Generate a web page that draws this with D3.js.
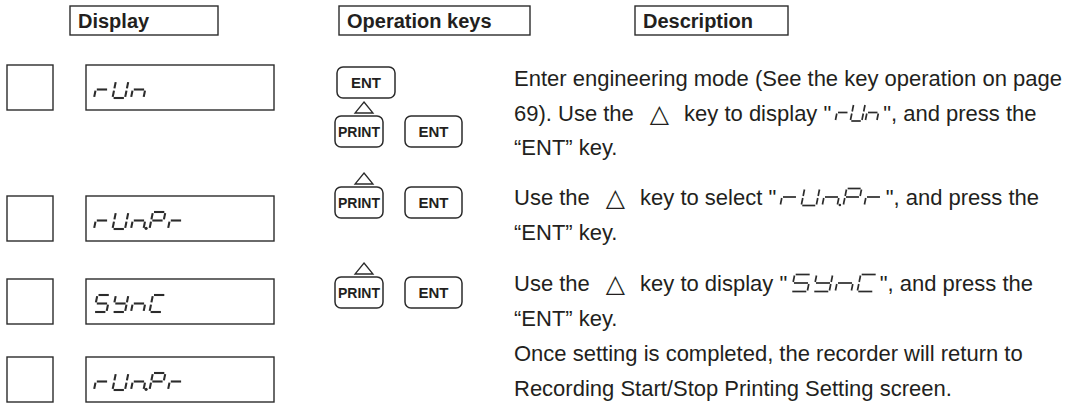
<!DOCTYPE html>
<html><head><meta charset="utf-8">
<script src="https://cdn.jsdelivr.net/npm/d3@7"></script>
<style>body{margin:0;background:#fff}svg{display:block}</style>
</head><body><svg id="c" width="1084" height="412"></svg>
<script>
// ---------- data ----------
const headers = ["Display", "Operation keys", "Description"];
const displays = ["rUn", "rUn.Pr", "SYnC", "rUn.Pr"];
const keyLines = [["ENT"], ["PRINT", "ENT"], ["PRINT", "ENT"], ["PRINT", "ENT"]];
const keyArrow = [false, true, true, true];
const descLines = [
  ["Enter engineering mode (See the key operation on page"],
  ["69). Use the", {tri: "\u25B3"}, "key to display \"", {seg: "rUn"}, "\", and press the"],
  ["\u201CENT\u201D key."],
  ["Use the", {tri: "\u25B3"}, "key to select \"", {seg: "rUn.Pr"}, "\", and press the"],
  ["\u201CENT\u201D key."],
  ["Use the", {tri: "\u25B3"}, "key to display \"", {seg: "SYnC"}, "\", and press the"],
  ["\u201CENT\u201D key."],
  ["Once setting is completed, the recorder will return to"],
  ["Recording Start/Stop Printing Setting screen."]
];
const descRow = [0, 0, 0, 1, 1, 2, 2, 3, 3];

// ---------- layout ----------
const INK = "#2b2b2b", TXT = "#231f20";
const FONT = "'Liberation Sans', Arial, Helvetica, sans-serif";
const svg = d3.select("#c");

const headerX = d3.scaleOrdinal().domain(headers).range([70, 339, 635]);
const headerW = d3.scaleOrdinal().domain(headers).range([148, 191, 153]);
const rowTop = d3.scaleOrdinal().domain(d3.range(4)).range([65, 196, 279, 357]);
const keyTop = [67, 116, 187, 277];
const descBase = d3.scaleOrdinal().domain(d3.range(4)).range([86, 205, 291, 361]);
const LINE = 34.5;
// inline 7-seg sizing per description line
const inlinePitch = {1: 15, 3: 21, 5: 22};
const inlineW = {1: 11.5, 3: 15, 5: 16};

// headers
const hg = svg.append("g");
hg.selectAll("rect").data(headers).join("rect")
  .attr("x", d => headerX(d)).attr("y", 6).attr("width", d => headerW(d)).attr("height", 29)
  .attr("fill", "none").attr("stroke", INK).attr("stroke-width", 1.4);
hg.selectAll("text").data(headers).join("text")
  .attr("x", d => headerX(d) + 8).attr("y", 28)
  .attr("font-family", FONT).attr("font-weight", "bold").attr("font-size", 20)
  .attr("fill", TXT).text(d => d);

// seven segment
const SEG = {
  a: [[0,0],[1,0]], b: [[1,0],[1,.5]], c: [[1,.5],[1,1]], d: [[0,1],[1,1]],
  e: [[0,.5],[0,1]], f: [[0,0],[0,.5]], g: [[0,.5],[1,.5]]
};
const CHARS = { r: "eg", U: "bcdef", n: "ceg", P: "abefg", S: "acdfg", Y: "bcdfg", C: "adef" };
function glyphs(g, str, x0, yTop, h, w, pitch, sw, gap) {
  const k = 0.2;
  let x = x0, last = x0;
  for (const ch of str) {
    if (ch === ".") {
      const px = x - pitch + w + 2.6, py = yTop + h;
      g.append("circle").attr("cx", px).attr("cy", py - sw * 0.3).attr("r", sw * 0.75).attr("fill", INK);
      continue;
    }
    for (const s of CHARS[ch]) {
      const [p0, p1] = SEG[s];
      let x1 = p0[0] * w, y1 = p0[1] * h, x2 = p1[0] * w, y2 = p1[1] * h;
      const len = Math.hypot(x2 - x1, y2 - y1), ux = (x2 - x1) / len, uy = (y2 - y1) / len;
      x1 += ux * gap; y1 += uy * gap; x2 -= ux * gap; y2 -= uy * gap;
      g.append("line")
        .attr("x1", x + x1 + (h - y1) * k).attr("y1", yTop + y1)
        .attr("x2", x + x2 + (h - y2) * k).attr("y2", yTop + y2)
        .attr("stroke", INK).attr("stroke-width", sw).attr("stroke-linecap", "butt");
    }
    last = x + w + h * k;
    x += pitch;
  }
  return last;
}

// display rows
const dg = svg.append("g");
displays.forEach((s, i) => {
  const y = rowTop(i);
  dg.append("rect").attr("x", 7).attr("y", y).attr("width", 46).attr("height", 45)
    .attr("fill", "none").attr("stroke", INK).attr("stroke-width", 1.4);
  dg.append("rect").attr("x", 86).attr("y", y).attr("width", 188).attr("height", 45)
    .attr("fill", "none").attr("stroke", INK).attr("stroke-width", 1.4);
  const g = dg.append("g").attr("aria-label", s);
  glyphs(g, s, 94, y + 16, 17, 12.5, 18.5, 2.1, 1.1);
});

// keys
const kg = svg.append("g");
const keyX = {0: [337], 1: [335, 405]};
const keyW = {0: [58], 1: [48, 57]};
keyLines.forEach((keys, i) => {
  const y = keyTop[i];
  const xs = keys.length === 1 ? keyX[0] : keyX[1];
  const ws = keys.length === 1 ? keyW[0] : keyW[1];
  keys.forEach((kname, j) => {
    kg.append("rect").attr("x", xs[j]).attr("y", y).attr("width", ws[j]).attr("height", 31)
      .attr("rx", 6).attr("fill", "none").attr("stroke", INK).attr("stroke-width", 1.5);
    kg.append("text").attr("x", xs[j] + ws[j] / 2).attr("y", y + 21)
      .attr("text-anchor", "middle").attr("font-family", FONT).attr("font-weight", "bold")
      .attr("font-size", kname === "PRINT" ? 14 : 15).attr("fill", TXT).text(kname);
  });
  if (keyArrow[i]) {
    const cx = xs[0] + ws[0] / 2 + 5;
    kg.append("path")
      .attr("d", `M${cx},${y - 14} L${cx + 9},${y - 3} L${cx - 9},${y - 3} Z`)
      .attr("fill", "none").attr("stroke", INK).attr("stroke-width", 1.3);
  }
});

// description
const tg = svg.append("g");
descLines.forEach((parts, i) => {
  const r = descRow[i];
  const firstInRow = descRow.indexOf(r);
  const base = descBase(r) + (i - firstInRow) * LINE;
  let x = 514;
  parts.forEach(p => {
    if (typeof p === "string") {
      const t = tg.append("text").attr("x", x).attr("y", base)
        .attr("font-family", FONT).attr("font-size", 22).attr("fill", TXT)
        .attr("xml:space", "preserve").text(p);
      x += t.node().getComputedTextLength();
    } else if (p.tri) {
      x += 16;
      const t = tg.append("text").attr("x", x).attr("y", base + 1)
        .attr("font-family", "'DejaVu Sans', sans-serif").attr("font-size", 25).attr("fill", TXT).text(p.tri);
      x += t.node().getComputedTextLength() + 15;
    } else if (p.seg) {
      x += 4;
      const g = tg.append("g").attr("aria-label", p.seg);
      x = glyphs(g, p.seg, x, base - 16.5, 17, inlineW[i], inlinePitch[i], 1.7, 1) + 3;
    }
  });
});
</script></body></html>
